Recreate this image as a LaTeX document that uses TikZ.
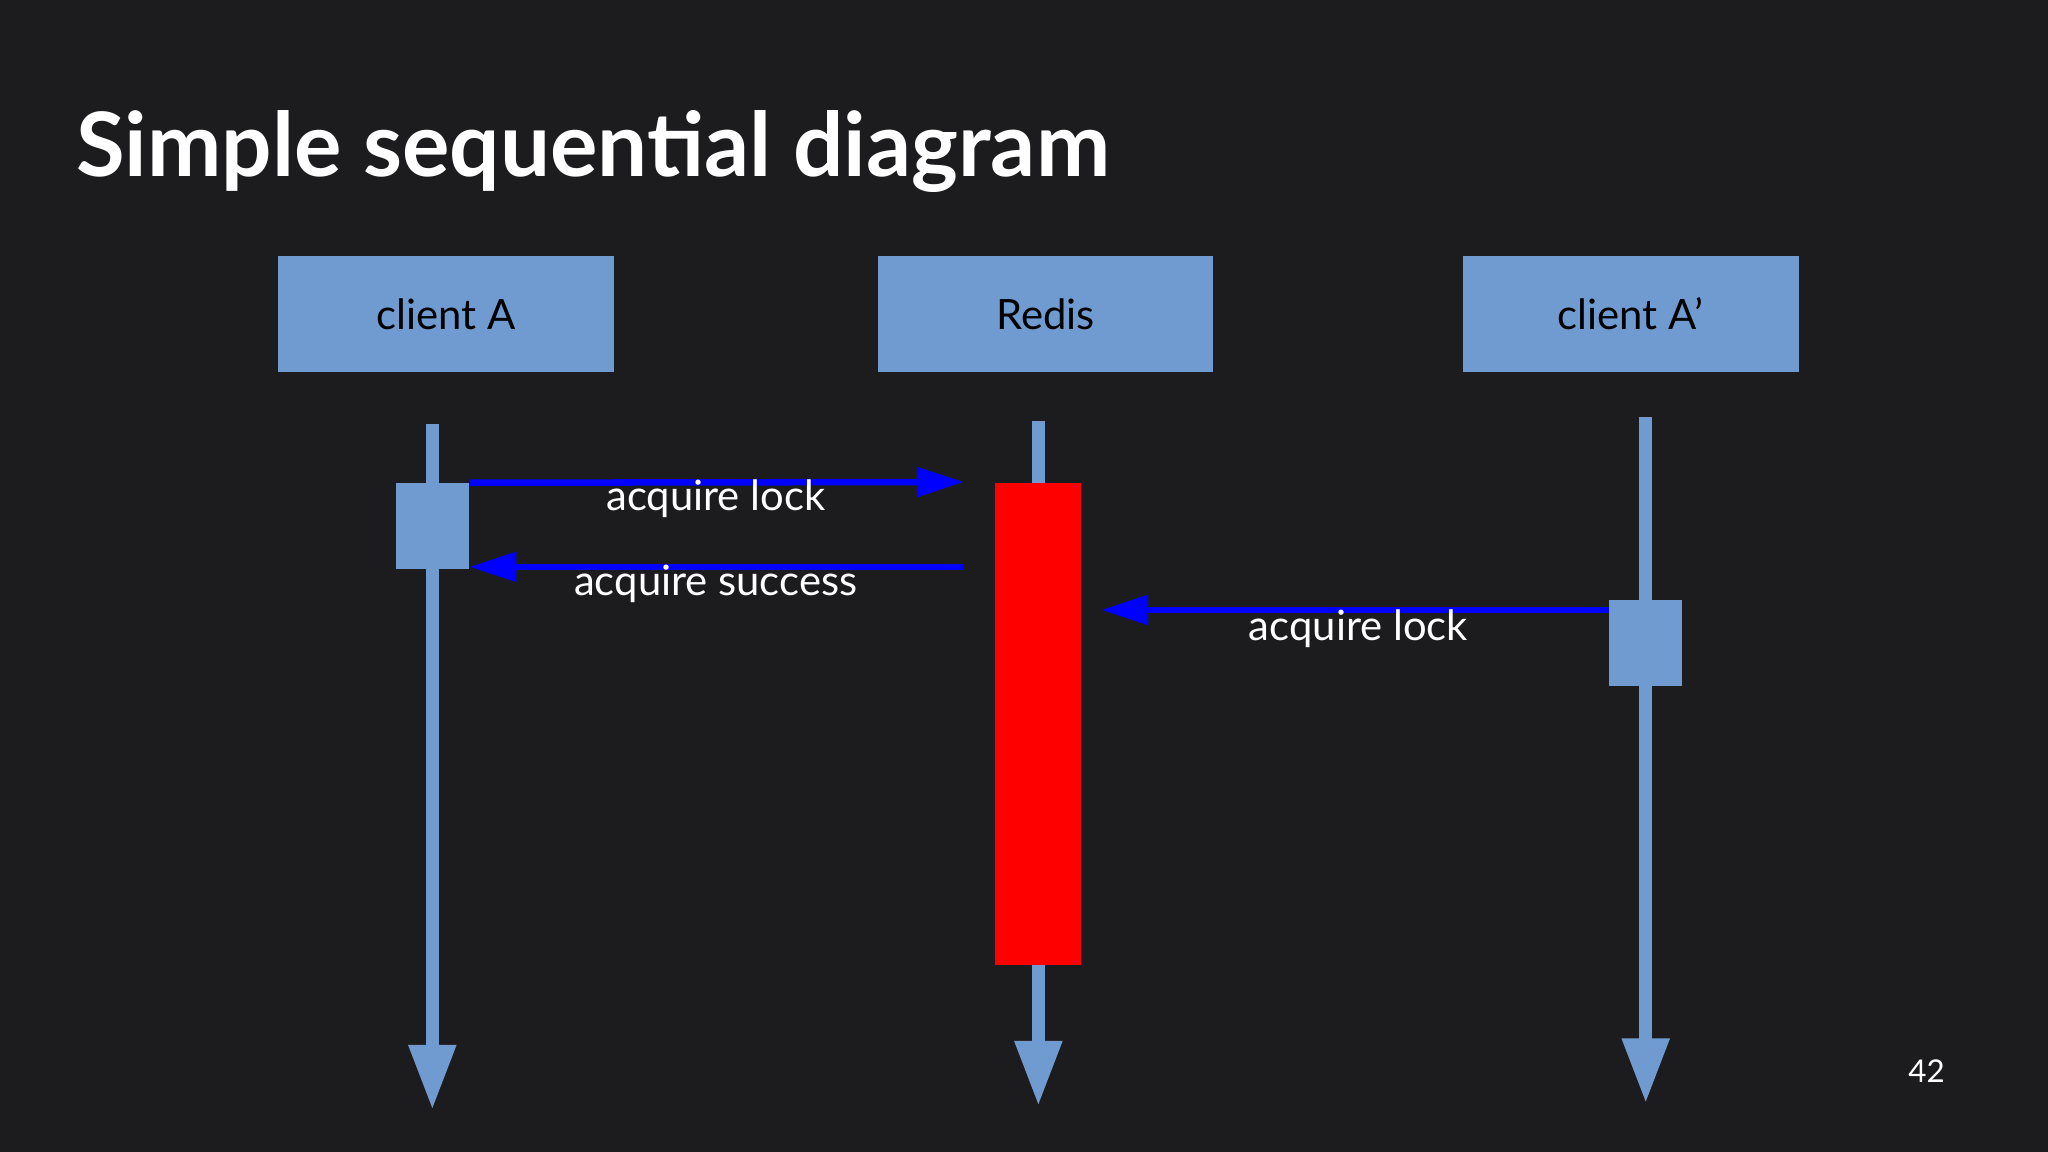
\documentclass[tikz,border=0pt]{standalone}
\usepackage{fontspec}
\setmainfont{Lato}
\usetikzlibrary{arrows.meta}
\definecolor{bg}{RGB}{28,28,30}
\definecolor{boxblue}{RGB}{112,155,208}
\definecolor{msgblue}{RGB}{0,0,255}
\tikzset{
  head/.style={draw=none,fill=boxblue,minimum width=128.5pt,minimum height=44.5pt,inner sep=0pt,font=\fontsize{16}{18}\selectfont,text=black},
  act/.style={draw=none,fill=boxblue,minimum width=28pt,minimum height=33pt,inner sep=0pt},
  life/.style={boxblue,line width=5pt,-{Triangle[length=25pt,width=17pt]}},
  msg/.style={msgblue,line width=2.5pt,-{Triangle[length=18pt,width=11pt]}},
  lbl/.style={text=white,font=\fontsize{16}{18}\selectfont,inner sep=0pt}
}
\begin{document}
\begin{tikzpicture}[x=0.5pt,y=-0.5pt]
\fill[bg] (0,0) rectangle (1568,882);
\useasboundingbox (0,0) rectangle (1568,882);
\node[anchor=base west,text=white,font=\bfseries\fontsize{34}{40}\selectfont,inner sep=0pt] (title) at (58,135) {Simple sequential diagram};
\node[head] (ca) at (341.5,240.5) {client A};
\node[head] (rd) at (800.5,240.5) {Redis};
\node[head] (cb) at (1248.5,240.5) {client A'};
\coordinate (a1) at (331,325); \coordinate (a2) at (331,850);
\coordinate (r1) at (795,322); \coordinate (r2) at (795,847);
\coordinate (b1) at (1260,319); \coordinate (b2) at (1260,845);
\draw[life] (a1) -- (a2);
\draw[life] (r1) -- (r2);
\draw[life] (b1) -- (b2);
\node[act] (aa) at (331,403) {};
\node[act] (ab) at (1260,492.5) {};
\node[draw=none,fill=red,minimum width=33pt,minimum height=184.5pt,inner sep=0pt] (lock) at (795,554.5) {};
\coordinate (m1) at (738,369);
\coordinate (m2) at (738,434);
\coordinate (m3) at (843,467);
\draw[msg] (aa.north east) -- (m1);
\draw[msg] (m2) -- (aa.east |- m2);
\draw[msg] (ab.west |- m3) -- (m3);
\node[lbl] (l1) at (548,382) {acquire lock};
\node[lbl] (l2) at (548,447) {acquire success};
\node[lbl] (l3) at (1040,481) {acquire lock};
\node[lbl,font=\fontsize{12}{14}\selectfont] (pg) at (1475,820) {42};
\end{tikzpicture}
\end{document}
